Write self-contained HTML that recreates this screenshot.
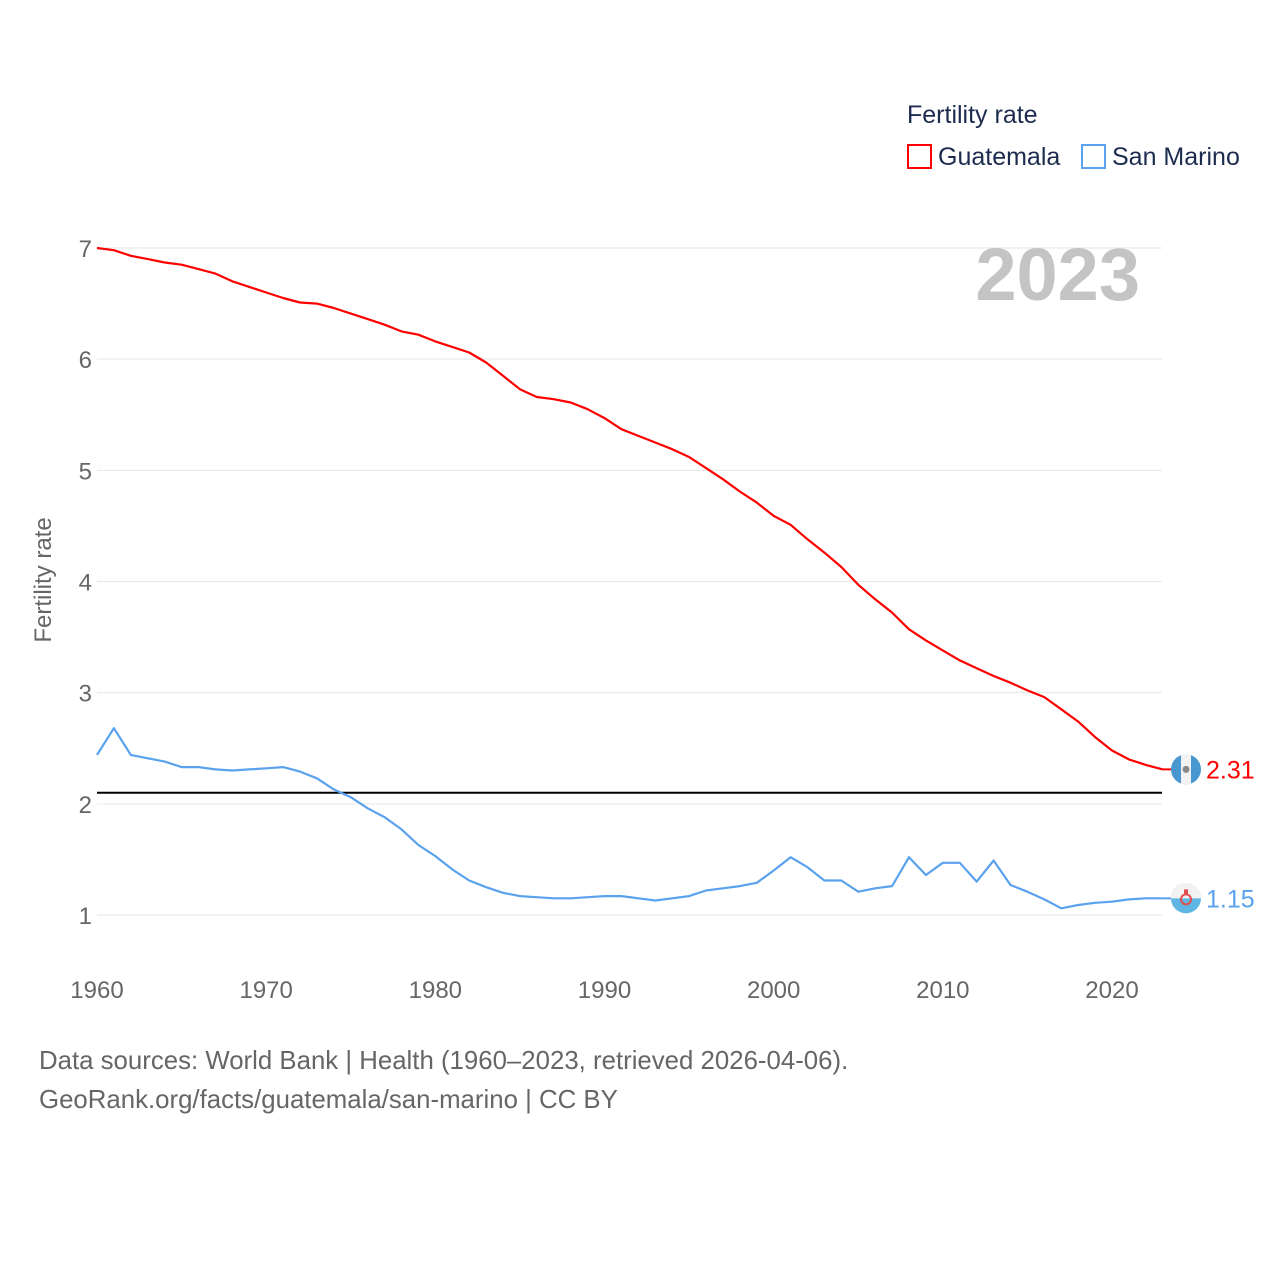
<!DOCTYPE html>
<html><head><meta charset="utf-8">
<style>
html,body{margin:0;padding:0;background:#fff;}
body{width:1280px;height:1280px;position:relative;overflow:hidden;font-family:"Liberation Sans",sans-serif;}
.t{position:absolute;white-space:nowrap;}
</style></head>
<body>
<div class="t" style="left:907px;top:101px;font-size:25px;color:#1d2b4f;">Fertility rate</div>
<div style="position:absolute;left:907px;top:143px;width:170px;height:30px;">
  <svg width="26" height="28" style="position:absolute;left:0;top:0;"><rect x="1" y="2" width="23" height="23" fill="none" stroke="#ff0000" stroke-width="2"/></svg>
  <div class="t" style="left:31px;top:0;font-size:25px;color:#1d2b4f;">Guatemala</div>
</div>
<div style="position:absolute;left:1081px;top:143px;width:180px;height:30px;">
  <svg width="26" height="28" style="position:absolute;left:0;top:0;"><rect x="1" y="2" width="23" height="23" fill="none" stroke="#5aa2ee" stroke-width="2"/></svg>
  <div class="t" style="left:31px;top:0;font-size:25px;color:#1d2b4f;">San Marino</div>
</div>
<svg id="chart" width="1280" height="1280" style="position:absolute;left:0;top:0;"></svg>
<div class="t" style="left:39px;top:1042px;font-size:25.8px;color:#666;line-height:39px;">Data sources: World Bank | Health (1960–2023, retrieved 2026-04-06).<br>GeoRank.org/facts/guatemala/san-marino | CC BY</div>
<script>
const years = [];
for (let y = 1960; y <= 2023; y++) years.push(y);
const guatemala = [7.00,6.98,6.93,6.90,6.87,6.85,6.81,6.77,6.70,6.65,6.60,6.55,6.51,6.50,6.46,6.41,6.36,6.31,6.25,6.22,6.16,6.11,6.06,5.97,5.85,5.73,5.66,5.64,5.61,5.55,5.47,5.37,5.31,5.25,5.19,5.12,5.02,4.92,4.81,4.71,4.59,4.51,4.38,4.26,4.13,3.97,3.84,3.72,3.57,3.47,3.38,3.29,3.22,3.15,3.09,3.02,2.96,2.85,2.74,2.60,2.48,2.40,2.35,2.31];
const sanMarino = [2.44,2.68,2.44,2.41,2.38,2.33,2.33,2.31,2.30,2.31,2.32,2.33,2.29,2.23,2.13,2.06,1.96,1.88,1.77,1.63,1.53,1.41,1.31,1.25,1.20,1.17,1.16,1.15,1.15,1.16,1.17,1.17,1.15,1.13,1.15,1.17,1.22,1.24,1.26,1.29,1.40,1.52,1.43,1.31,1.31,1.21,1.24,1.26,1.52,1.36,1.47,1.47,1.30,1.49,1.27,1.21,1.14,1.06,1.09,1.11,1.12,1.14,1.15,1.15];
const yTicks = [1,2,3,4,5,6,7];
const xTicks = [1960,1970,1980,1990,2000,2010,2020];
const replacementRate = 2.1;
const lastLabels = ["2.31","1.15"];

const NS = "http://www.w3.org/2000/svg";
const svg = document.getElementById("chart");
const X = yr => 97 + (yr - 1960) * (1112 - 97) / 60;
const Y = v => 248 + (7 - v) * (915 - 248) / 6;
function mk(tag, attrs, parent) {
  const e = document.createElementNS(NS, tag);
  for (const k in attrs) e.setAttribute(k, attrs[k]);
  (parent || svg).appendChild(e);
  return e;
}
yTicks.forEach(v => {
  const g = mk("line", {x1: 97, x2: 1162, y1: Y(v), y2: Y(v), stroke: "#e6e6e6", "stroke-width": 1});
  
  
  const t = mk("text", {x: 92, y: Y(v) + 9, "text-anchor": "end", "font-size": 24, fill: "#666", "font-family": "Liberation Sans, sans-serif"});
  t.textContent = v;
  
  
});
xTicks.forEach(yr => {
  const t = mk("text", {x: X(yr), y: 998, "text-anchor": "middle", "font-size": 24, fill: "#666", "font-family": "Liberation Sans, sans-serif"});
  t.textContent = yr;
  
  
});
const yt = mk("text", {x: 0, y: 0, transform: "translate(51,580) rotate(-90)", "text-anchor": "middle", "font-size": 24, fill: "#666", "font-family": "Liberation Sans, sans-serif"});
yt.textContent = "Fertility rate";



const yr = mk("text", {x: 1140, y: 300, "text-anchor": "end", "font-size": 74, "font-weight": "bold", fill: "#c4c4c4", "font-family": "Liberation Sans, sans-serif"});
yr.textContent = "2023";



const ref = mk("line", {x1: 97, x2: 1162, y1: Y(replacementRate), y2: Y(replacementRate), stroke: "#000", "stroke-width": 2});



function series(vals, color, name) {
  const d = vals.map((v, i) => (i ? "L" : "M") + X(years[i]).toFixed(1) + " " + Y(v).toFixed(1)).join(" ");
  const p = mk("path", {d: d, fill: "none", stroke: color, "stroke-width": 2.2, "stroke-linejoin": "round"});
  
  
}
series(guatemala, "#ff0000", "guatemala");
series(sanMarino, "#5aa2ee", "san-marino");

function endMarker(vals, color, label, name, kind) {
  const v = vals[vals.length - 1];
  const cx = 1186, cy = Y(v);
  mk("line", {x1: X(2023), x2: cx - 14, y1: cy, y2: cy, stroke: color, "stroke-width": 2});
  const g = mk("g", {});
  
  
  if (kind === "gt") {
    mk("circle", {cx: cx, cy: cy, r: 15, fill: "#4997d0"}, g);
    mk("rect", {x: cx - 5, y: cy - 15, width: 10, height: 30, fill: "#f2f2f2"}, g);
    mk("circle", {cx: cx, cy: cy, r: 3.5, fill: "#888"}, g);
  } else {
    mk("circle", {cx: cx, cy: cy, r: 15, fill: "#5eb6e4"}, g);
    mk("path", {d: `M${cx-15} ${cy} A15 15 0 0 1 ${cx+15} ${cy} Z`, fill: "#f2f2f2"}, g);
    mk("circle", {cx: cx, cy: cy + 1, r: 5, fill: "none", stroke: "#e05050", "stroke-width": 2}, g);
    mk("rect", {x: cx - 2, y: cy - 9, width: 4, height: 5, fill: "#e05050"}, g);
  }
  const t = mk("text", {x: 1206, y: cy + 9, "font-size": 25, fill: color, "font-family": "Liberation Sans, sans-serif"});
  t.textContent = label;
  
  
}
endMarker(guatemala, "#ff0000", lastLabels[0], "guatemala", "gt");
endMarker(sanMarino, "#5aa2ee", lastLabels[1], "san-marino", "sm");
</script>
</body></html>
